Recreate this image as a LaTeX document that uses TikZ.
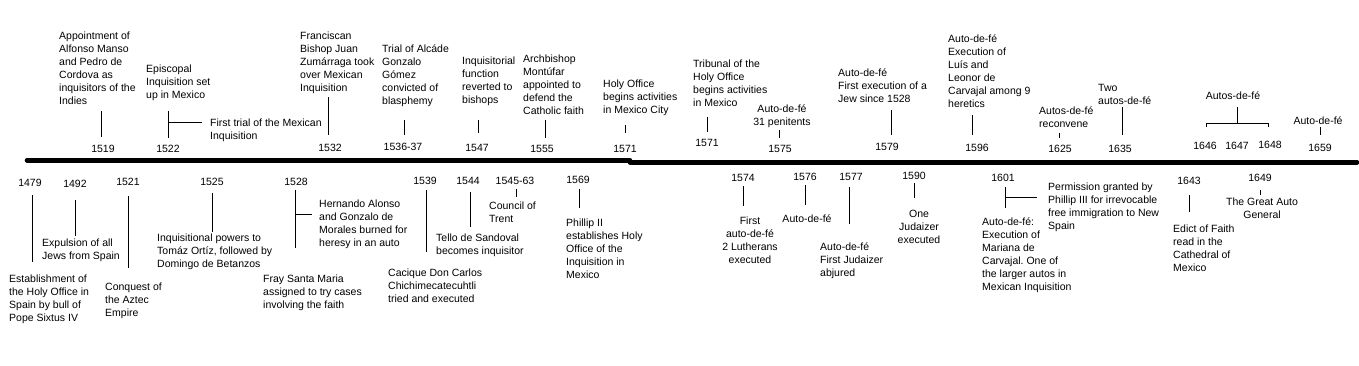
\documentclass[tikz,border=0pt]{standalone}
\usepackage{fontspec}
\setmainfont{Liberation Sans}
\frenchspacing
\newcommand{\tlfont}{\fontsize{10.5}{13}\selectfont}
% multi-line texts are placed by the baseline of their last line
\tikzstyle{evt} = [anchor=base west, align=left, inner sep=0pt, font=\tlfont]
\tikzstyle{evtc} = [anchor=base, align=center, inner sep=0pt, font=\tlfont]
\tikzstyle{yr} = [anchor=base, inner sep=0pt, font=\tlfont]
\tikzstyle{tick} = [line width=0.8pt]
\tikzstyle{bar} = [line width=4.6pt]

\begin{document}
\begin{tikzpicture}[x=1pt, y=-1pt]

		\useasboundingbox (0,0) rectangle (1359,365);

		% the time line
		\draw [bar, line cap=round] (27,160.3) -- (630,160.3);
		\draw [bar, line cap=round] (630,162.3) -- (1357,162.3);

		% above the line
		\node [evt] (e1519) at (59,104) {Appointment of\\Alfonso Manso\\and Pedro de\\Cordova as\\inquisitors of the\\Indies};
		\draw [tick] (101,111) -- (101,137);
		\node [yr] (y1519) at (103,152) {1519};

		\node [evt] (e1522) at (146,98) {Episcopal\\Inquisition set\\up in Mexico};
		\draw [tick] (168,111) -- (168,138);
		\draw [tick] (168,122) -- (202,122);
		\node [evt] (f1522) at (210,139) {First trial of the Mexican\\Inquisition};
		\node [yr] (y1522) at (168,152) {1522};

		\node [evt] (e1532) at (300,91) {Franciscan\\Bishop Juan\\Zumárraga took\\over Mexican\\Inquisition};
		\draw [tick] (328,97) -- (328,135);
		\node [yr] (y1532) at (330,151) {1532};

		\node [evt] (e1536) at (382,104) {Trial of Alcáde\\Gonzalo\\Gómez\\convicted of\\blasphemy};
		\draw [tick] (404,120) -- (404,135);
		\node [yr] (y1536) at (403,150) {1536-37};

		\node [evt] (e1547) at (462,103) {Inquisitorial\\function\\reverted to\\bishops};
		\draw [tick] (478,120) -- (478,133);
		\node [yr] (y1547) at (477,151) {1547};

		\node [evt] (e1555) at (523,114) {Archbishop\\Montúfar\\appointed to\\defend the\\Catholic faith};
		\draw [tick] (545,120) -- (545,138);
		\node [yr] (y1555) at (542,152) {1555};

		\node [evt] (e1571a) at (603,113) {Holy Office\\begins activities\\in Mexico City};
		\draw [tick] (625,125) -- (625,133);
		\node [yr] (y1571a) at (625,152) {1571};

		\node [evt] (e1571b) at (693,106) {Tribunal of the\\Holy Office\\begins activities\\in Mexico};
		\draw [tick] (707,117) -- (707,132);
		\node [yr] (y1571b) at (707,146) {1571};

		\node [evtc] (e1575) at (782,125) {Auto-de-fé\\31 penitents};
		\draw [tick] (779,130) -- (779,138);
		\node [yr] (y1575) at (780,152) {1575};

		\node [evt] (e1579) at (838,102) {Auto-de-fé\\First execution of a\\Jew since 1528};
		\draw [tick] (891,110) -- (891,135);
		\node [yr] (y1579) at (887,150) {1579};

		\node [evt] (e1596) at (948,107) {Auto-de-fé\\Execution of\\Luís and\\Leonor de\\Carvajal among 9\\heretics};
		\draw [tick] (972,115) -- (972,135);
		\node [yr] (y1596) at (977,151) {1596};

		\node [evt] (e1625) at (1039,127) {Autos-de-fé\\reconvene};
		\draw [tick] (1059,133) -- (1059,138);
		\node [yr] (y1625) at (1060,152) {1625};

		\node [evt] (e1635) at (1098,104) {Two\\autos-de-fé};
		\draw [tick] (1122,107) -- (1122,135);
		\node [yr] (y1635) at (1120,152) {1635};

		\node [evtc] (e1646) at (1233,99) {Autos-de-fé};
		\draw [tick] (1237,107) -- (1237,123);
		\draw [tick] (1206,127) -- (1206,123) -- (1268,123) -- (1268,127);
		\node [yr] (y1646) at (1205,149) {1646};
		\node [yr] (y1647) at (1237,149) {1647};
		\node [yr] (y1648) at (1270,148) {1648};

		\node [evtc] (e1659) at (1318,124) {Auto-de-fé};
		\draw [tick] (1320,127) -- (1320,135);
		\node [yr] (y1659) at (1320,151) {1659};

		% below the line
		\node [yr] (y1479) at (30,186) {1479};
		\draw [tick] (32,195) -- (32,262);
		\node [evt] (e1479) at (9,321) {Establishment of\\the Holy Office in\\Spain by bull of\\Pope Sixtus IV};

		\node [yr] (y1492) at (75,187) {1492};
		\draw [tick] (75,200) -- (75,236);
		\node [evt] (e1492) at (42,259) {Expulsion of all\\Jews from Spain};

		\node [yr] (y1521) at (128,185) {1521};
		\draw [tick] (128,196) -- (128,268);
		\node [evt] (e1521) at (105,316) {Conquest of\\the Aztec\\Empire};

		\node [yr] (y1525) at (212,185) {1525};
		\draw [tick] (212,193) -- (212,232);
		\node [evt] (e1525) at (157,267) {Inquisitional powers to\\Tomáz Ortíz, followed by\\Domingo de Betanzos};

		\node [yr] (y1528) at (296,185) {1528};
		\draw [tick] (295,190) -- (295,248);
		\draw [tick] (295,214) -- (312,214);
		\node [evt] (e1528) at (319,246) {Hernando Alonso\\and Gonzalo de\\Morales burned for\\heresy in an auto};
		\node [evt] (f1528) at (263,308) {Fray Santa Maria\\assigned to try cases\\involving the faith};

		\node [yr] (y1539) at (425,184) {1539};
		\draw [tick] (426,190) -- (426,252);
		\node [evt] (e1539) at (388,302) {Cacique Don Carlos\\Chichimecatecuhtli\\tried and executed};

		\node [yr] (y1544) at (468,184) {1544};
		\draw [tick] (470,192) -- (470,227);
		\node [evt] (e1544) at (436,254) {Tello de Sandoval\\becomes inquisitor};

		\node [yr] (y1545) at (515,184) {1545-63};
		\draw [tick] (516,189) -- (516,197);
		\node [evt] (e1545) at (489,222) {Council of\\Trent};

		\node [yr] (y1569) at (578,183) {1569};
		\draw [tick] (579,189) -- (579,208);
		\node [evt] (e1569) at (566,278) {Phillip II\\establishes Holy\\Office of the\\Inquisition in\\Mexico};

		\node [yr] (y1574) at (743,181) {1574};
		\draw [tick] (743,186) -- (743,206);
		\node [evtc] (e1574) at (750,263) {First\\auto-de-fé\\2 Lutherans\\executed};

		\node [yr] (y1576) at (805,180) {1576};
		\draw [tick] (805,185) -- (805,205);
		\node [evtc] (e1576) at (807,222) {Auto-de-fé};

		\node [yr] (y1577) at (851,180) {1577};
		\draw [tick] (849,187) -- (849,224);
		\node [evt] (e1577) at (820,276) {Auto-de-fé\\First Judaizer\\abjured};

		\node [yr] (y1590) at (914,179) {1590};
		\draw [tick] (914,183) -- (914,198);
		\node [evtc] (e1590) at (919,243) {One\\Judaizer\\executed};

		\node [yr] (y1601) at (1003,181) {1601};
		\draw [tick] (1005,187) -- (1005,208);
		\draw [tick] (1005,197) -- (1037,197);
		\node [evt] (e1601) at (1048,229) {Permission granted by\\Phillip III for irrevocable\\free immigration to New\\Spain};
		\node [evt] (f1601) at (982,290) {Auto-de-fé:\\Execution of\\Mariana de\\Carvajal. One of\\the larger autos in\\Mexican Inquisition};

		\node [yr] (y1643) at (1189,184) {1643};
		\draw [tick] (1189,195) -- (1189,212);
		\node [evt] (e1643) at (1173,271) {Edict of Faith\\read in the\\Cathedral of\\Mexico};

		\node [yr] (y1649) at (1260,181) {1649};
		\draw [tick] (1260,190) -- (1260,195);
		\node [evtc] (e1649) at (1262,218) {The Great Auto\\General};

	\end{tikzpicture}
\end{document}
